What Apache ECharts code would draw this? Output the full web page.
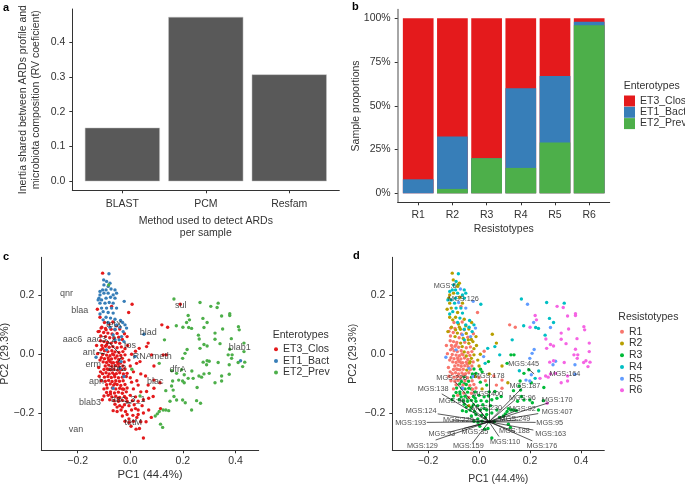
<!DOCTYPE html>
<html><head><meta charset="utf-8">
<script src="https://cdn.jsdelivr.net/npm/echarts@6/dist/echarts.min.js"></script>
<style>html,body{margin:0;padding:0;background:#fff}#c{width:685px;height:484px}</style>
</head><body><div id="c"></div>
<script>
// Panel a
const methods = ['BLAST','PCM','Resfam'];
const rvValues = [0.154,0.472,0.307];
// Panel b (shares per resistotype)
const resistotypes = ['R1','R2','R3','R4','R5','R6'];
const shareClos = [0.92,0.675,0.80,0.40,0.33,0.02];
const shareBact = [0.08,0.30,0,0.455,0.38,0.02];
const sharePrev = [0,0.025,0.20,0.145,0.29,0.96];
// Panels c, d: [PC1, PC2, resistotype number]
const prevPoints = [[.166,.188,4],[.265,.176,4],[.306,.163,6],[.334,.174,4],[.330,.159,6],[.220,.132,6],[.225,.117,6],[.214,.108,5],[.276,.122,4],[.292,.108,4],[.347,.130,6],[.378,.138,6],[.378,.132,6],[.175,.097,4],[.200,.092,6],[.222,.091,4],[.233,.088,4],[.280,.091,5],[.351,.086,6],[.411,.094,6],[.414,.083,6],[.322,.072,6],[.259,.065,4],[.262,.052,6],[.130,.049,4],[.322,.051,6],[.384,.053,6],[.432,.038,6],[.341,.036,6],[.280,.033,6],[.292,.028,6],[.265,.020,6],[.216,.016,5],[.432,.009,6],[.378,.017,6],[.372,-.002,6],[.387,-.002,6],[.208,.003,5],[.199,-.014,5],[.277,-.027,6],[.292,-.022,6],[.300,-.024,5],[.290,-.036,5],[.334,-.028,6],[.385,-.014,6],[.435,-.027,6],[.410,-.028,6],[.427,-.042,6],[.376,-.036,5],[.110,-.031,3],[.006,-.051,3],[.234,-.057,4],[.205,-.070,5],[.280,-.067,6],[.300,-.065,6],[.376,-.068,5],[.195,-.053,3],[.176,-.065,3],[.158,-.056,4],[.161,-.091,3],[.184,-.088,5],[.199,-.091,5],[.205,-.097,3],[.220,-.082,4],[.239,-.082,6],[.261,-.074,6],[.271,-.078,6],[.347,-.074,6],[.322,-.097,6],[.347,-.091,6],[.254,-.113,3],[.157,-.108,3],[.135,-.124,3],[.163,-.122,3],[.166,-.144,3],[.151,-.160,3],[.176,-.156,3],[.199,-.156,3],[.209,-.165,3],[.252,-.158,3],[.267,-.167,6],[.233,-.190,3],[.125,-.190,3],[.135,-.190,3],[.146,-.192,3],[.110,-.195,3],[.103,-.203,3],[.095,-.210,3],[.115,-.238,3],[.123,-.249,3],[-.082,.236,3],[.037,-.142,3]];
const bactPoints = [[-.081,.274,4],[-.101,.253,2],[-.09,.248,4],[-.077,.242,2],[-.1,.236,4],[-.084,.231,2],[-.105,.219,4],[-.092,.219,4],[-.073,.222,5],[-.058,.219,4],[-.115,.214,4],[-.115,.202,2],[-.1,.208,2],[-.084,.208,4],[-.065,.202,4],[-.052,.208,4],[-.119,.191,2],[-.109,.185,4],[-.092,.191,4],[-.075,.194,2],[-.058,.191,4],[-.122,.185,4],[-.115,.174,2],[-.096,.174,4],[-.08,.176,5],[-.065,.174,2],[-.023,.18,5],[-.109,.157,2],[-.09,.157,4],[-.071,.157,4],[-.052,.157,5],[-.103,.145,4],[-.084,.142,2],[-.065,.14,4],[-.115,.137,4],[-.092,.126,2],[-.075,.123,4],[-.058,.119,2],[-.103,.117,2],[-.037,.115,4],[-.084,.108,4],[-.02,.1,4],[-.029,.108,2],[-.052,.1,4],[-.039,.092,4],[-.014,.089,5],[-.027,.077,4],[-.077,.092,2],[-.058,.085,4],[-.033,.06,5],[-.042,.049,2],[-.065,.066,5],[-.024,.043,2],[-.058,.049,4],[.052,.068,2],[.419,-.022,6],[-.035,-.025,2],[-.024,-.076,5],[-.065,-.116,5],[-.039,-.048,5],[.018,-.008,5],[-.09,.015,5],[-.13,-.01,5]];
const closPoints = [[-.105,.276,2],[.007,.17,4],[-.006,.142,1],[.19,.17,5],[-.125,.153,2],[-.115,.126,2],[-.071,.163,1],[-.111,.089,1],[-.122,.077,2],[-.092,.083,2],
[-.098,.108,1],[-.081,.103,2],[-.066,.110,1],[-.052,.097,2],[-.108,.092,2],[-.094,.088,1],[-.073,.085,2],[-.058,.083,1],[-.04,.086,2],[-.118,.078,1],[-.101,.074,1],[-.085,.072,2],[-.069,.069,1],[-.05,.071,2],[-.112,.062,1],[-.094,.060,2],[-.078,.056,1],[-.062,.054,2],[-.044,.058,1],[-.03,.05,2],
[-.113,.046,1],[-.1,.043,1],[-.087,.04,1],[-.072,.038,2],[-.056,.041,1],[-.04,.037,2],[-.108,.03,1],[-.094,.027,1],[-.08,.024,1],[-.066,.026,2],[-.05,.022,1],[-.034,.025,1],[-.02,.019,2],[-.112,.015,1],[-.098,.012,1],[-.085,.009,1],[-.07,.012,1],[-.058,.008,2],[-.043,.006,1],[-.028,.009,1],[-.105,-.001,1],[-.09,-.003,1],[-.077,-.005,1],[-.063,-.002,1],[-.05,-.006,2],[-.036,-.004,1],[-.02,-.002,2],
[-.124,.002,1],[-.11,-.012,1],[-.098,-.015,1],[-.084,-.013,1],[-.071,-.016,1],[-.057,-.013,1],[-.044,-.018,1],[-.03,-.014,2],[-.103,-.026,1],[-.09,-.028,1],[-.077,-.025,1],[-.064,-.029,1],[-.05,-.027,1],[-.037,-.03,2],[-.023,-.026,1],[-.095,-.04,1],[-.082,-.037,1],[-.07,-.041,1],[-.056,-.039,1],[-.043,-.042,1],[-.028,-.04,1],
[-.1,-.052,1],[-.088,-.05,1],[-.075,-.053,1],[-.062,-.051,1],[-.048,-.054,2],[-.034,-.052,1],[-.02,-.05,3],[-.105,-.066,1],[-.092,-.063,1],[-.08,-.067,1],[-.067,-.064,1],[-.053,-.066,1],[-.04,-.063,1],[-.026,-.067,3],[-.012,-.065,3],[-.098,-.078,1],[-.085,-.076,1],[-.072,-.079,1],[-.059,-.077,3],[-.045,-.08,1],[-.03,-.078,3],[-.015,-.076,2],[-.11,-.09,1],[-.095,-.092,1],[-.082,-.089,1],[-.069,-.093,3],[-.055,-.09,1],[-.041,-.092,3],[-.027,-.09,1],[-.09,-.104,1],[-.076,-.101,3],[-.063,-.105,1],[-.05,-.103,3],[-.036,-.106,1],[-.02,-.103,1],
[-.068,-.115,3],[-.055,-.118,3],[-.04,-.116,3],[-.025,-.119,1],[-.012,-.115,1],[-.09,-.13,3],[-.075,-.128,3],[-.06,-.132,1],[-.045,-.129,3],[-.03,-.133,1],[-.015,-.128,3],[-.1,-.142,3],[-.084,-.14,1],[-.07,-.145,3],[-.055,-.143,3],[-.04,-.147,1],[-.022,-.144,3],[0,-.14,3],[.02,-.145,3],
[-.078,-.155,3],[-.062,-.158,3],[-.045,-.16,3],[-.03,-.157,3],[-.012,-.16,3],[.008,-.158,3],[.03,-.16,3],[-.058,-.17,3],[-.04,-.175,2],[-.022,-.172,3],[-.005,-.175,3],[.015,-.172,3],[-.065,-.192,3],[-.05,-.195,3],[-.035,-.19,3],[-.018,-.195,3],[.005,-.19,3],[.02,-.185,3],[-.03,-.21,3],[-.012,-.205,3],[.01,-.208,3],[-.02,-.228,3],[-.004,-.232,3],[.012,-.228,3],[.04,-.23,3],[.003,-.245,3],[.022,-.255,3],[.035,-.253,3],[.05,-.285,3],[.06,-.23,3],[.08,-.215,3],[.115,-.185,3],
[.034,.02,4],[.068,.038,2],[.09,-.04,2],[.137,-.002,3],[.125,-.002,3],[.04,-.067,2],[.058,-.074,1],[.09,-.088,1],[.068,-.105,1],[.09,-.116,1],[.087,-.144,3],[.062,-.127,3],[.113,-.097,2],[.12,.1,1],[.142,.092,1],[.062,.026,4],[.037,-.025,3],[.024,-.031,4],[.081,-.002,4],
[-.115,-.02,1],[-.118,-.075,1],[-.088,-.115,3],[-.1,-.118,1],[-.106,-.155,3],[.005,-.095,3],[.012,-.118,2],[.025,-.09,1],[.03,-.105,3],[.04,-.128,3],[.05,-.155,3],[.07,-.15,3],[.045,-.175,3],[.03,-.19,3],[0,-.08,1],[.012,-.06,3],[0,-.04,2],[-.005,-.02,2],[.005,0,2],[.02,.01,1],[-.01,.03,2],[-.012,.06,2],[-.022,.07,1],[-.128,.03,1],[-.12,-.045,1],[-.113,-.06,1],[-.07,-.03,1],[-.06,-.07,1],[-.083,-.052,1],[-.046,-.033,1],[-.067,.001,1],[-.082,-.02,1],[-.09,.032,1],[-.105,.02,1],[-.058,-.1,3],[-.03,-.118,3],[-.075,-.135,3],[-.045,-.15,3],[-.015,-.15,3],[-.05,-.18,3],[-.03,-.18,3],[-.005,-.22,3],[.03,-.205,3],[.025,-.215,3],[.05,-.2,3],[.07,-.19,3]];
// Panel c: gene loadings [label, PC1, PC2]
const geneLabels = [['qnr',-.242,.206],['blaa',-.192,.148],['aac6',-.219,.049],['aac3_2',-.109,.049],['ant',-.157,.007],['erm',-.141,-.036],['aph',-.128,-.093],['blab3',-.153,-.164],['van',-.206,-.256],['tetX',-.062,.1],['tos',-.001,.031],['blad',.068,.075],['RNAmeth',.084,-.008],['abr2',-.049,-.048],['blac',.095,-.092],['dfrA',.18,-.053],['sul',.192,.166],['blab1',.416,.024],['tetM',.011,-.232],['aac_3_1',-.008,-.153]];
const geneSegments = [[-.124,.006,-.096,.001],[-.092,.051,-.042,.003],[-.033,-.008,-.046,-.028],[-.02,-.161,.005,-.166]];
// Panel d: MGS loadings [label, label PC1, label PC2]
const mgsLabels = [['MGS:6',-.133,.232],['MGS:126',-.061,.188],['MGS:445',.175,-.034],['MGS:164',.337,-.067],['MGS:228',-.107,-.08],['MGS:178',.04,-.074],['MGS:187',.18,-.108],['MGS:138',-.18,-.12],['MGS:400',.034,-.134],['MGS:96',.17,-.148],['MGS:170',.306,-.156],['MGS:99',-.105,-.158],['MGS:230',.03,-.184],['MGS:92',.17,-.185],['MGS:124',-.227,-.194],['MGS:407',.306,-.197],['MGS:229',-.081,-.224],['MGS:249',.141,-.222],['MGS:193',-.268,-.233],['MGS:95',.277,-.234],['MGS:93',-.146,-.273],['MGS:35',-.016,-.264],['MGS:188',.139,-.26],['MGS:163',.281,-.273],['MGS:129',-.222,-.311],['MGS:159',-.042,-.311],['MGS:110',.102,-.3],['MGS:176',.246,-.311]];
const mgsOrigin = [.039,-.23];
const mgsEnds = [[.039,-.082],[-.094,-.093],[-.146,-.135],[-.075,-.155],[-.162,-.203],[-.205,-.232],[-.107,-.224],[-.12,-.266],[-.06,-.253],[-.17,-.292],[-.026,-.303],[.078,-.28],[.141,-.264],[.209,-.295],[.213,-.258],[.222,-.232],[.154,-.224],[.232,-.202],[.274,-.165],[.154,-.189],[.141,-.155],[.167,-.116],[-.004,-.183]];
const mgsShort = [[.191,-.048,.216,-.067]];
const etNames = ['ET3_Clos','ET1_Bact','ET2_Prev'];
const etColors = ['#E41A1C','#377EB8','#4DAF4A'];
const rColors = ['#F8766D','#B79F00','#00BA38','#00BFC4','#619CFF','#F564E3'];

const FONT = 'Liberation Sans';
const INK = '#333';
const minus = v => String(v.toFixed(1)).replace('-', '\u2212');
const allPoints = closPoints.concat(bactPoints, prevPoints);
// bars in panel b are layered: each one reaches the running total of the shares below it
const topPrev = sharePrev.slice();
const topBact = sharePrev.map((v,i)=>v+shareBact[i]);
const topClos = topBact.map((v,i)=>v+shareClos[i]);

function axisCfg(gi, o) {
  return Object.assign({
    type:'value', gridIndex:gi, splitLine:{show:false},
    axisLine:{show:true,onZero:false,lineStyle:{color:INK,width:1}},
    axisTick:{show:true,length:3,lineStyle:{color:INK},customValues:o.ticks},
    axisLabel:{color:INK,fontFamily:FONT,fontSize:10.5,margin:o.margin||7,customValues:o.ticks,formatter:o.fmt||minus},
    nameLocation:'middle', nameMoveOverlap:false,
    nameTextStyle:{color:INK,fontFamily:FONT,fontSize:o.nameSize||10.5,lineHeight:o.nameLine||13}
  }, o.extra);
}
const pcTicksY = [-.2,0,.2], pcTicksX = [-.2,0,.2,.4];
const G = {outerBoundsMode:'none',containLabel:false};

const option = {
  animation:false, backgroundColor:'#fff',
  textStyle:{fontFamily:FONT},
  grid:[
    Object.assign({left:72.3,top:9,width:267,height:181.3},G),
    Object.assign({left:397.7,top:9.5,width:212,height:192.8},G),
    Object.assign({left:41.3,top:257.3,width:217.4,height:193},G),
    Object.assign({left:392.3,top:257.3,width:212,height:193},G)
  ],
  xAxis:[
    axisCfg(0,{ticks:[1,2,3],fmt:v=>methods[v-1],margin:8,nameLine:12.4,extra:{min:.4,max:3.6,name:'Method used to detect ARDs\nper sample',nameGap:24.5}}),
    axisCfg(1,{ticks:[1,2,3,4,5,6],fmt:v=>resistotypes[v-1],extra:{min:.4,max:6.6,name:'Resistotypes',nameGap:20}}),
    axisCfg(2,{ticks:pcTicksX,margin:5.5,nameSize:11.4,extra:{min:-.338,max:.488,name:'PC1 (44.4%)',nameGap:18}}),
    axisCfg(3,{ticks:pcTicksX,margin:5.5,extra:{min:-.34,max:.491,name:'PC1 (44.4%)',nameGap:22}})
  ],
  yAxis:[
    axisCfg(0,{ticks:[0,.1,.2,.3,.4],extra:{min:-.0258,max:.4947,name:'Inertia shared between ARDs profile and\nmicrobiota composition (RV coeficient)',nameGap:30}}),
    axisCfg(1,{ticks:[0,.25,.5,.75,1],fmt:v=>Math.round(v*100)+'%',extra:{min:-.0514,max:1.05,name:'Sample proportions',nameGap:35,axisLine:{show:true,onZero:false,lineStyle:{color:'#888',width:1.5}}}}),
    axisCfg(2,{ticks:pcTicksY,nameSize:10.8,extra:{min:-.327,max:.33,name:'PC2 (29.3%)',nameGap:30}}),
    axisCfg(3,{ticks:pcTicksY,extra:{min:-.327,max:.33,name:'PC2 (29.3%)',nameGap:33}})
  ],
  title:[
    ['a',3,2],['b',352,1],['c',3,251],['d',353,250]
  ].map(([t,l,tp])=>({text:t,left:l,top:tp,padding:0,textStyle:{fontFamily:FONT,fontSize:11,fontWeight:'bold',color:'#000'}})).concat(
    [['Enterotypes',623.7,81],['Enterotypes',272.7,330],['Resistotypes',618.3,312]].map(([t,l,tp])=>({text:t,left:l,top:tp,padding:0,textStyle:{fontFamily:FONT,fontSize:10.5,fontWeight:'normal',color:INK}}))
  ),
  legend:[
    {left:624,top:95.5,orient:'vertical',itemWidth:11,itemHeight:11,itemGap:.3,icon:'rect',selectedMode:false,padding:0,data:etNames,textStyle:{color:INK,fontFamily:FONT,fontSize:10.5}},
    {left:274,top:343.5,orient:'vertical',itemWidth:4,itemHeight:4,itemGap:0,icon:'circle',selectedMode:false,padding:0,data:etNames,textStyle:{color:INK,fontFamily:FONT,fontSize:10.5,lineHeight:11.6}},
    {left:620,top:326,orient:'vertical',itemWidth:4,itemHeight:4,itemGap:0,icon:'circle',selectedMode:false,padding:0,data:resistotypes,textStyle:{color:INK,fontFamily:FONT,fontSize:10.5,lineHeight:11.7}}
  ],
  series:[
    {type:'bar',xAxisIndex:0,yAxisIndex:0,barWidth:75,silent:true,data:rvValues.map((v,i)=>[i+1,v]),itemStyle:{color:'#595959',borderColor:'#c4c4c4',borderWidth:.5}},
    ...[[topClos,0],[topBact,1],[topPrev,2]].map(([arr,i])=>({
      type:'bar',name:etNames[i],xAxisIndex:1,yAxisIndex:1,barWidth:30.7,barGap:'-100%',silent:true,z:2+i,
      data:arr.map((v,k)=>[k+1,v]),itemStyle:{color:etColors[i]}
    })),
    ...[[closPoints,0],[bactPoints,1],[prevPoints,2]].map(([pts,i])=>({
      type:'scatter',name:etNames[i],xAxisIndex:2,yAxisIndex:2,symbolSize:3.4,silent:true,
      data:pts.map(p=>[p[0],p[1]]),itemStyle:{color:etColors[i],opacity:1}
    })),
    {type:'lines',coordinateSystem:'cartesian2d',xAxisIndex:2,yAxisIndex:2,silent:true,
      data:geneSegments.map(s=>({coords:[[s[0],s[1]],[s[2],s[3]]]})),lineStyle:{color:'#111',width:.8,opacity:1},z:3},
    {type:'scatter',xAxisIndex:2,yAxisIndex:2,symbolSize:0,silent:true,z:4,
      data:geneLabels.map(g=>({name:g[0],value:[g[1],g[2]]})),
      label:{show:true,position:'inside',formatter:'{b}',color:'#222',fontFamily:FONT,fontSize:9}},
    ...resistotypes.map((r,i)=>({
      type:'scatter',name:r,xAxisIndex:3,yAxisIndex:3,symbolSize:3.4,silent:true,z:i===2?1.5:2,
      data:allPoints.filter(p=>p[2]===i+1).map(p=>[p[0],p[1]]),itemStyle:{color:rColors[i],opacity:1}
    })),
    {type:'lines',coordinateSystem:'cartesian2d',xAxisIndex:3,yAxisIndex:3,silent:true,z:3,
      data:mgsEnds.map(e=>({coords:[mgsOrigin,e]})).concat(mgsShort.map(s=>({coords:[[s[0],s[1]],[s[2],s[3]]]}))),
      lineStyle:{color:'#111',width:.7,opacity:1}},
    {type:'scatter',xAxisIndex:3,yAxisIndex:3,symbolSize:0,silent:true,z:4,
      data:mgsLabels.map(g=>({name:g[0],value:[g[1],g[2]]})),
      label:{show:true,position:'inside',formatter:'{b}',color:'#222',fontFamily:FONT,fontSize:7.3}}
  ]
};
echarts.init(document.getElementById('c'),null,{renderer:'canvas'}).setOption(option);
</script></body></html>
